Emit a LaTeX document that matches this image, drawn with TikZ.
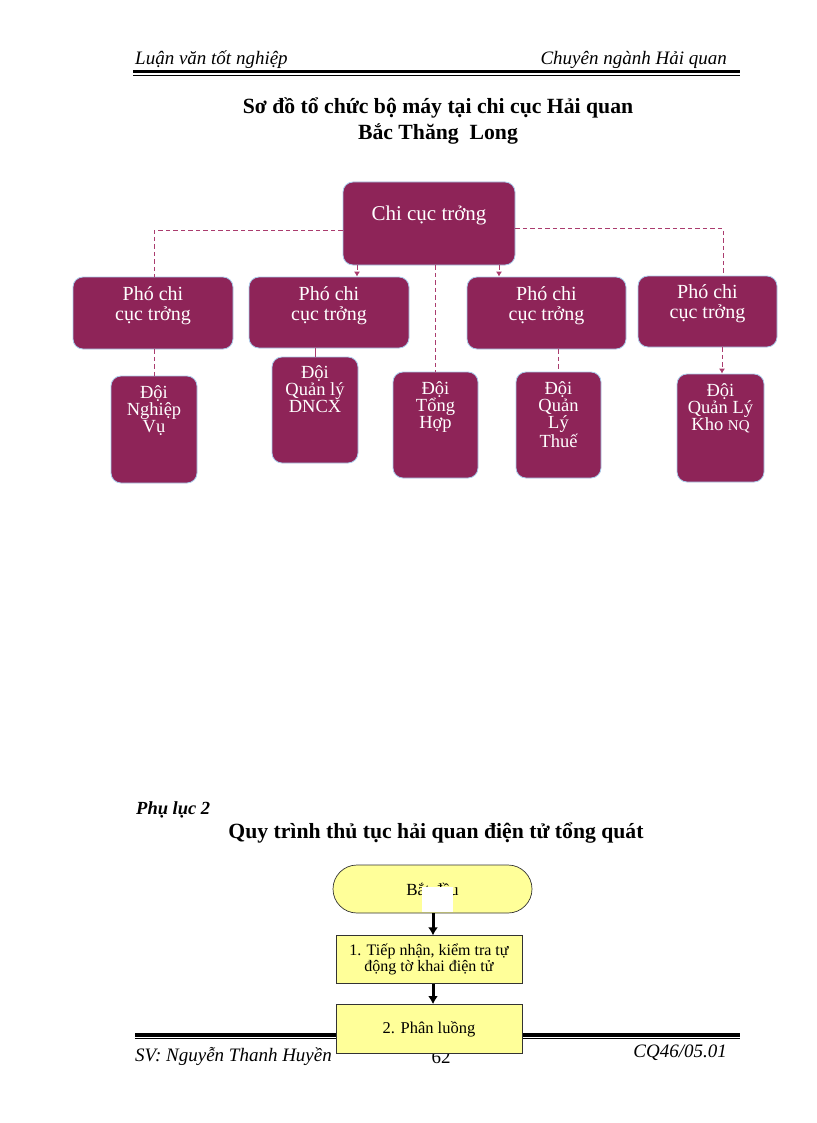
\documentclass[tikz,border=0pt]{standalone}
\usepackage{fontspec}
\setmainfont{Liberation Serif}
\usetikzlibrary{positioning}
\usetikzlibrary{arrows.meta}
\usetikzlibrary{calc}

\definecolor{plum}{RGB}{142,36,88}
\definecolor{plumline}{RGB}{170,60,110}
\definecolor{paleedge}{RGB}{170,205,235}
\definecolor{paleyellow}{RGB}{255,255,153}

\begin{document}
\begin{tikzpicture}[ x = 1pt, y = -1pt
                     , align = center
                     , node distance = 22pt and 10pt
                     , >={Latex[width=6pt, length=5pt]}
                     , every node/.style = { inner sep = 0pt }
                     ]

    \tikzset{ unit/.style = { rectangle, rounded corners = 10pt, fill = plum
                            , draw = paleedge, line width = 0.8pt }
            , chieftext/.style = {text = white, font = \fontsize{21}{21}\selectfont}
            , deputytext/.style = {text = white, font = \fontsize{20}{20}\selectfont}
            , teamtext/.style = {text = white, font = \fontsize{18.5}{17}\selectfont}
            , link/.style = { draw = plumline, line width = 0.9pt
                            , dash pattern = on 4.5pt off 3pt }
            , stepbox/.style = { rectangle, fill = paleyellow, draw = black!80
                               , line width = 0.7pt, minimum width = 186pt
                               , minimum height = 48pt
                               , font = \fontsize{16}{16}\selectfont }
            , flow/.style = { ->, draw = black, line width = 3pt
                            , >={Latex[width=10pt, length=8pt]} }
            , pagetext/.style = {font = \fontsize{19}{19}\selectfont\itshape}
            , rule/.style = {draw = black}
            }
    \useasboundingbox (0,0) rectangle (816,1123);

    %%
    %% Page header and footer
    %%
    \node (head-l) [pagetext, anchor = west] at (135,60) {Luận văn tốt nghiệp};
    \node (head-r) [pagetext, anchor = east] at (727,60) {Chuyên ngành Hải quan};
    \draw[rule, line width = 3.3pt] (133,71.5) -- (740,71.5);
    \draw[rule, line width = 0.8pt] (133,75.5) -- (740,75.5);

    \draw[rule, line width = 4pt] (135,1034.7) -- (740,1034.7);
    \draw[rule, line width = 0.8pt] (135,1038.3) -- (740,1038.3);
    \node (foot-l) [pagetext, anchor = west] at (135,1056) {SV: Nguyễn Thanh Huyền};
    \node (page)   [font = \fontsize{19}{19}\selectfont] at (441,1057) {62};
    \node (foot-r) [pagetext, anchor = east] at (727,1053) {CQ46/05.01};

    %%
    %% Titles
    %%
    \node (title) [font = \fontsize{21.7}{26}\selectfont\bfseries] at (438,121)
      {Sơ đồ tổ chức bộ máy tại chi cục Hải quan\\Bắc Thăng\ \ Long};
    \node (annex) [anchor = west, font = \fontsize{18.5}{18.5}\selectfont\bfseries\itshape]
      at (136,810) {Phụ lục 2};
    \node (title2) [font = \fontsize{21.7}{21.7}\selectfont\bfseries] at (436,833)
      {Quy\ trình\ thủ tục hải quan\ điện tử tổng quát};

    %%
    %% Organisation chart
    %%
    \node (chief) [unit, minimum width = 172pt, minimum height = 83pt] at (429,223.5) {};
    \node (pc1)   [unit, minimum width = 160pt, minimum height = 72pt] at (153,313) {};
    \node (pc2)   [unit, minimum width = 160pt, minimum height = 71pt] at (329,312.5) {};
    \node (pc3)   [unit, minimum width = 159pt, minimum height = 72pt] at (546.5,313) {};
    \node (pc4)   [unit, minimum width = 139pt, minimum height = 71pt] at (707.5,311.5) {};
    \node (nvu)   [unit, minimum width = 86pt, minimum height = 107pt] at (154,429.5) {};
    \node (dncx)  [unit, minimum width = 86pt, minimum height = 106pt] at (315,410) {};
    \node (tong)  [unit, minimum width = 85pt, minimum height = 106pt] at (435.5,425) {};
    \node (thue)  [unit, minimum width = 85pt, minimum height = 106pt] at (558.5,425) {};
    \node (kho)   [unit, minimum width = 87pt, minimum height = 108pt] at (720.5,428) {};

    \node (chief-t) [chieftext] at ([yshift = -34pt]chief.north) {Chi cục trởng};
    \node (pc1-t) [deputytext] at ([yshift = -29pt]pc1.north) {Phó chi\\cục trởng};
    \node (pc2-t) [deputytext] at ([yshift = -29pt]pc2.north) {Phó chi\\cục trởng};
    \node (pc3-t) [deputytext] at ([yshift = -29pt]pc3.north) {Phó chi\\cục trởng};
    \node (pc4-t) [deputytext] at ([yshift = -28pt]pc4.north) {Phó chi\\cục trởng};
    \node (nvu-t)  [teamtext, anchor = north, below = 10pt of nvu.north]  {Đội\\Nghiệp\\Vụ};
    \node (dncx-t) [teamtext, anchor = north, below = 9pt of dncx.north]  {Đội\\Quản lý\\DNCX};
    \node (tong-t) [teamtext, anchor = north, below = 10pt of tong.north] {Đội\\Tổng\\Hợp};
    \node (thue-t) [teamtext, anchor = north, below = 10pt of thue.north] {Đội\\Quản\\Lý\\Thuế};
    \node (kho-t)  [teamtext, anchor = north, below = 10pt of kho.north]
      {Đội\\Quản Lý\\Kho {\fontsize{15}{15}\selectfont NQ}};

    %%
    %% Links (dashed)
    %%
    \draw[link] ([yshift = -7pt]chief.west) -| ([xshift = 1pt]pc1.north);
    \draw[link] ([yshift = -5pt]chief.east) -| ([xshift = 15.5pt]pc4.north);
    \draw[link, ->] ([xshift = -72pt]chief.south) -- ([xshift = -72pt]chief.south |- pc2.north);
    \draw[link, ->] ([xshift = 70pt]chief.south) -- ([xshift = 70pt]chief.south |- pc3.north);
    \draw[link] (chief.south -| tong.north) -- (tong.north);
    \draw[link] (nvu.north |- pc1.south) -- (nvu.north);
    \draw[draw = plumline, line width = 0.9pt] (dncx.north |- pc2.south) -- (dncx.north);
    \draw[link] (thue.north |- pc3.south) -- (thue.north);
    \draw[link, ->] ([xshift = 1.5pt]kho.north |- pc4.south) -- ([xshift = 1.5pt]kho.north);

    %%
    %% Flow chart
    %%
    \node (start) [rectangle, rounded corners = 24pt, fill = paleyellow, draw = black!80
                  , line width = 0.7pt, minimum width = 199pt, minimum height = 48pt
                  , font = \fontsize{17}{17}\selectfont] at (432.5,889) {Bắt đầu};
    \node (mask)  [fill = white, minimum width = 31pt, minimum height = 25pt] at (437.5,899.5) {};
    \node (step1) [stepbox, below = 22pt of start, xshift = -3.5pt]
      {1. Tiếp nhận, kiểm tra tự\\động tờ khai điện tử};
    \node (step2) [stepbox, below = 20pt of step1, minimum height = 49pt,
                   font = \fontsize{16.5}{16.5}\selectfont] {2. Phân luồng};

    \draw[flow] ([xshift = 0.5pt]start.south) -- ([xshift = 4pt]step1.north);
    \draw[flow] ([xshift = 4pt]step1.south) -- ([xshift = 4pt]step2.north);
  \end{tikzpicture}
\end{document}
